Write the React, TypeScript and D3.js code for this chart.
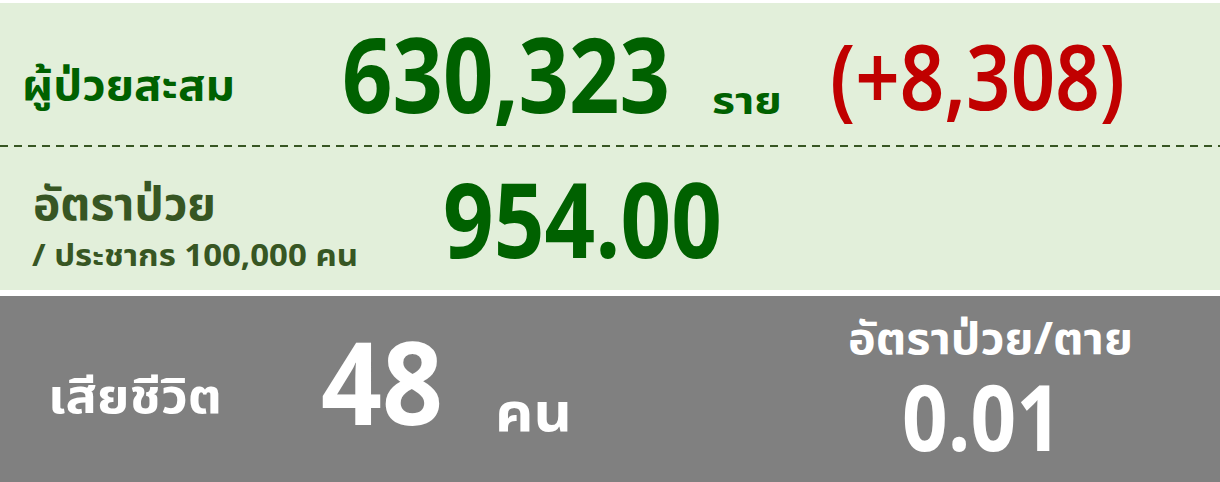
import React, { useEffect, useRef } from 'react'
import * as d3 from 'd3'

// summary figures
const cumulativeCases = [630323]
const newCases = [8308]
const incidenceRate = [954.0]
const deaths = [48]
const fatalityRate = [0.01]

// labels
const labels = ['ผู้ป่วยสะสม', 'อัตราป่วย', '/ ประชากร 100,000 คน', 'เสียชีวิต', 'อัตราป่วย/ตาย']
const units = ['ราย', 'คน']

const W = 1220
const H = 482
const FONT = "'Noto Sans Thai', 'Noto Sans', sans-serif"

function App() {
    const ref = useRef<SVGSVGElement>(null)

    useEffect(() => {
        const svg = d3.select(ref.current)
        svg.selectAll('*').remove()

        const fmtInt = d3.format(',')
        const fmt2 = d3.format('.2f')

        // panels
        svg.append('rect').attr('x', 0).attr('y', 3).attr('width', W).attr('height', 287).attr('fill', '#e2efda')
        svg.append('rect').attr('x', 0).attr('y', 296).attr('width', W).attr('height', H - 296).attr('fill', '#808080')

        svg.append('line')
            .attr('x1', 0).attr('x2', W)
            .attr('y1', 146).attr('y2', 146)
            .attr('stroke', '#375623').attr('stroke-width', 2)
            .attr('stroke-dasharray', '8,6')

        const txt = (s: string, x: number, y: number, size: number, fill: string, weight: string | number, w?: number) => {
            const t = svg.append('text')
                .attr('x', x).attr('y', y)
                .attr('font-family', FONT)
                .attr('font-size', size)
                .attr('font-weight', weight)
                .attr('fill', fill)
                .text(s)
            if (w) t.attr('textLength', w).attr('lengthAdjust', 'spacingAndGlyphs')
            return t
        }

        // top row
        txt(labels[0], 22, 100, 42, '#006100', 'bold', 213)
        txt(fmtInt(cumulativeCases[0]), 342, 113, 104, '#006100', 'bold', 328)
        txt(units[0], 712, 114, 38, '#006100', 'bold', 70)
        txt('(+' + fmtInt(newCases[0]) + ')', 830, 110, 90, '#c00000', 600, 295)

        // middle row
        txt(labels[1], 33, 220, 46, '#375623', 'bold', 183)
        txt(labels[2], 32, 266, 30, '#375623', 'bold', 326)
        txt(fmt2(incidenceRate[0]), 443, 258, 104, '#006100', 'bold', 279)

        // bottom row
        txt(labels[3], 48, 413, 48, '#ffffff', 'bold', 174)
        txt(fmtInt(deaths[0]), 321, 425, 114, '#ffffff', 'bold', 122)
        txt(units[1], 495, 431, 54, '#ffffff', 'bold', 77)
        txt(labels[4], 848, 354, 44, '#ffffff', 'bold', 285)
        txt(fmt2(fatalityRate[0]), 902, 451, 92, '#ffffff', 'bold', 160)
    }, [])

    return (
        <svg ref={ref} width={W} height={H}
            style={{ position: 'absolute', left: 0, top: 0, background: '#fff' }} />
    )
}

export default App
